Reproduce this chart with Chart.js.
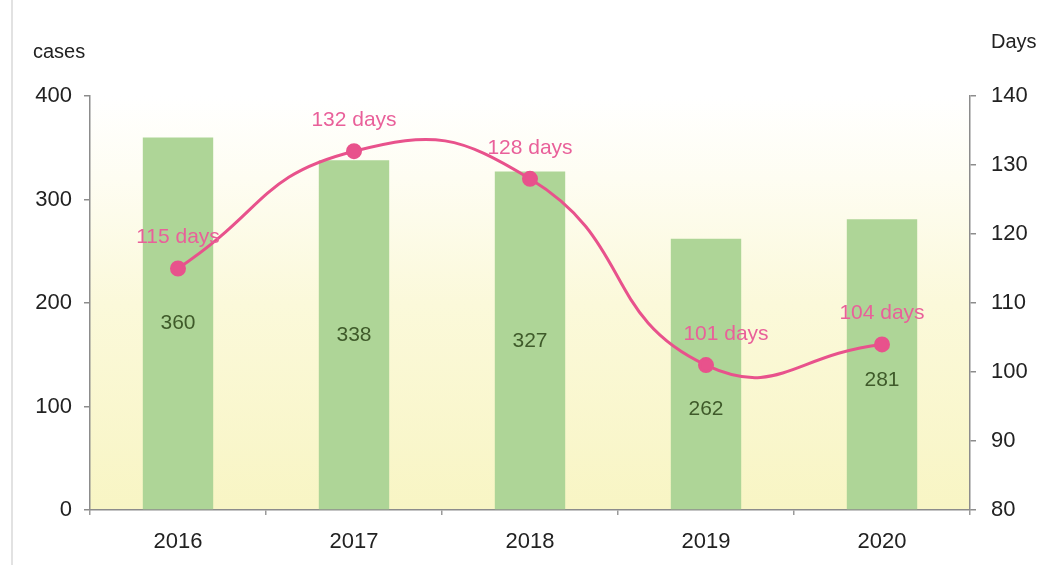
<!DOCTYPE html>
<html><head><meta charset="utf-8">
<script src="https://cdn.jsdelivr.net/npm/chart.js@4"></script>
<style>html,body{margin:0;padding:0;background:#fff;}#wrap{width:1040px;height:565px;}</style>
</head><body><div id="wrap"><canvas id="c" width="1040" height="565"></canvas></div>
<script>
const years = ['2016', '2017', '2018', '2019', '2020'];
const cases = [360, 338, 327, 262, 281];
const days = [115, 132, 128, 101, 104];
const caseTicks = [0, 100, 200, 300, 400];
const dayTicks = [80, 90, 100, 110, 120, 130, 140];

const FONT = '"Liberation Sans", Arial, sans-serif';
const AXIS = '#8c8c8c';

// where each bar's value label sits, in left-axis units
const barLabelAt = [180, 169, 163.5, 97, 125];
const lineLabelDx = [0, 0, 0, 20, 0];

const decor = {
  id: 'decor',
  beforeDraw(chart) {
    const {ctx, chartArea: a} = chart;
    ctx.save();
    ctx.fillStyle = '#ffffff';
    ctx.fillRect(0, 0, chart.width, chart.height);
    const g = ctx.createLinearGradient(0, a.top, 0, a.bottom);
    g.addColorStop(0, '#ffffff');
    g.addColorStop(0.2, '#fefdf2');
    g.addColorStop(0.5, '#fbf9da');
    g.addColorStop(1, '#f8f5c4');
    ctx.fillStyle = g;
    ctx.fillRect(a.left, a.top, a.right - a.left, a.bottom - a.top);
    ctx.strokeStyle = '#e2e2e2';
    ctx.lineWidth = 2;
    ctx.beginPath(); ctx.moveTo(12, 0); ctx.lineTo(12, chart.height); ctx.stroke();
    ctx.restore();
  },
  afterDraw(chart) {
    const {ctx} = chart;
    ctx.save();
    ctx.font = '20px ' + FONT;
    ctx.fillStyle = '#222';
    ctx.textBaseline = 'middle';
    ctx.textAlign = 'left';
    ctx.fillText('cases', 33, 52);
    ctx.fillText('Days', 991, 42);

    const yS = chart.scales.y;
    const barMeta = chart.getDatasetMeta(1);
    ctx.font = '21px ' + FONT;
    ctx.textAlign = 'center';
    ctx.fillStyle = '#3f5a2a';
    barMeta.data.forEach((el, i) => {
      ctx.fillText(String(cases[i]), el.x, yS.getPixelForValue(barLabelAt[i]));
    });
    const lineMeta = chart.getDatasetMeta(0);
    ctx.fillStyle = '#e9609a';
    lineMeta.data.forEach((el, i) => {
      ctx.fillText(days[i] + ' days', el.x + lineLabelDx[i], el.y - 31);
    });
    ctx.restore();
  }
};

new Chart(document.getElementById('c'), {
  data: {
    labels: years,
    datasets: [
      {
        type: 'line', label: 'Days', data: days, yAxisID: 'y2', order: 0,
        borderColor: '#e8528c', backgroundColor: '#e8528c', borderWidth: 3,
        pointRadius: 6.5, pointHoverRadius: 6.5, tension: 0.5,
        cubicInterpolationMode: 'default', fill: false
      },
      {
        type: 'bar', label: 'cases', data: cases, yAxisID: 'y', order: 1,
        backgroundColor: '#aed597', borderWidth: 0,
        barPercentage: 0.4, categoryPercentage: 1
      }
    ]
  },
  options: {
    responsive: false,
    animation: false,
    devicePixelRatio: 1,
    layout: {padding: {top: 96, left: 0, right: 0, bottom: 0}},
    plugins: {legend: {display: false}, tooltip: {enabled: false}, title: {display: false}},
    scales: {
      x: {
        type: 'category', offset: true,
        grid: {display: true, drawOnChartArea: false, drawTicks: true, tickLength: 5, color: '#9a9a9a', lineWidth: 1.5, offset: true},
        border: {display: true, color: AXIS, width: 1.5},
        ticks: {color: '#222', font: {size: 22, family: FONT}, padding: 14, maxRotation: 0},
        afterFit(s) { s.height = 55; }
      },
      y: {
        position: 'left', min: 0, max: 400,
        afterBuildTicks(s) { s.ticks = caseTicks.map(v => ({value: v})); },
        grid: {display: true, drawOnChartArea: false, drawTicks: true, tickLength: 6, color: AXIS, lineWidth: 1.5},
        border: {display: true, color: AXIS, width: 1.5},
        ticks: {color: '#222', font: {size: 22, family: FONT}, padding: 12},
        afterFit(s) { s.width = 90; }
      },
      y2: {
        position: 'right', min: 80, max: 140,
        afterBuildTicks(s) { s.ticks = dayTicks.map(v => ({value: v})); },
        grid: {display: true, drawOnChartArea: false, drawTicks: true, tickLength: 6, color: AXIS, lineWidth: 1.5},
        border: {display: true, color: AXIS, width: 1.5},
        ticks: {color: '#222', font: {size: 22, family: FONT}, padding: 15},
        afterFit(s) { s.width = 70; }
      }
    }
  },
  plugins: [decor]
});
</script>
</body></html>
